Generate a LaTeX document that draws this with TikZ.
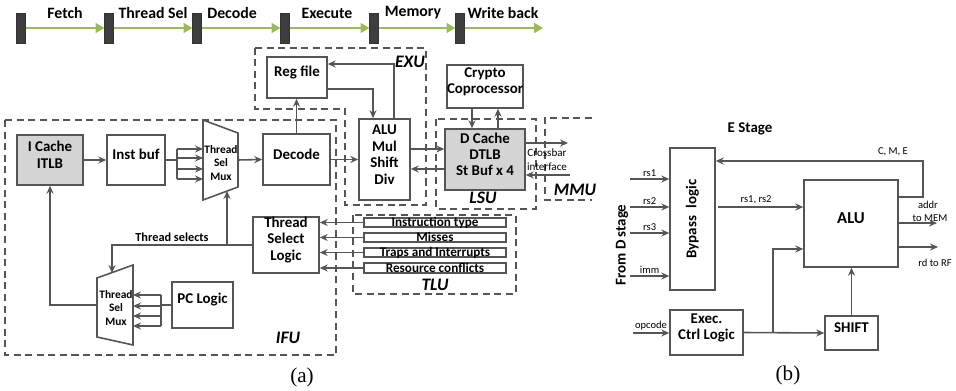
\documentclass[tikz,border=0pt]{standalone}
\usepackage{fontspec}
\setmainfont{Carlito}
\newfontfamily\capfont{Liberation Serif}
\usetikzlibrary{arrows.meta,fit,calc}

\definecolor{linegray}{RGB}{85,85,85}
\definecolor{cachefill}{RGB}{212,212,212}
\definecolor{pipegreen}{RGB}{155,187,89}
\definecolor{latchgray}{RGB}{62,62,62}

\tikzset{
  blk/.style={draw=linegray, line width=0.9pt, fill=white, inner sep=0pt, align=center,
    font=\bfseries\fontsize{8.5}{9.3}\selectfont},
  shaded/.style={blk, fill=cachefill},
  tlurow/.style={blk, line width=0.8pt},
  tlutxt/.style={inner sep=0pt, font=\bfseries\fontsize{7.5}{8}\selectfont,
    text height=4.9pt, text depth=0pt},
  unit/.style={draw=linegray, line width=0.8pt, dash pattern=on 4pt off 2.6pt},
  unitlbl/.style={font=\bfseries\itshape\fontsize{10}{12}\selectfont},
  wire/.style={draw=linegray, line width=0.9pt},
  arr/.style={wire, -{Stealth[length=4.5pt,width=4pt]}},
  muxtxt/.style={align=center, font=\bfseries\fontsize{6.5}{7.9}\selectfont},
  small/.style={font=\fontsize{6}{7}\selectfont, inner sep=1pt},
  latch/.style={draw=black!80, fill=latchgray, minimum width=0.17cm, minimum height=0.6cm, inner sep=0pt},
  pipe/.style={draw=pipegreen, line width=1.7pt, -{Triangle[length=5pt,width=5.5pt]}},
  stagelbl/.style={font=\bfseries\fontsize{9}{11}\selectfont},
}

\begin{document}
\begin{tikzpicture}[x=0.02cm, y=-0.02cm]
\useasboundingbox (0,0) rectangle (956,391);

% pipeline stages
\foreach \x [count=\i] in {21,109,197,285,374,460}
  \node[latch] (st\i) at (\x,28) {};
\coordinate (wbEnd) at (543,28);
\foreach \i/\j in {1/2,2/3,3/4,4/5,5/6}
  \draw[pipe] (st\i.east) -- (st\j.west);
\draw[pipe] (st6.east) -- (wbEnd);
\foreach \x/\t in {65/Fetch,153/Thread Sel,232/Decode,327/Execute,413/Memory,503/Write back}
  \node[stagelbl] at (\x,13) {\t};

% (a) core units
\draw[unit] (255,48) -- (426,48) -- (426,205) -- (345,205) -- (345,109) -- (255,109) -- cycle;
\draw[unit] (5,120) rectangle (336,355);
\draw[unit] (436,119) rectangle (536,209);
\draw[unit] (592,118) -| (545,200) -- (592,200);
\draw[unit] (353,215) rectangle (516,294);
\node[unitlbl] (exulbl) at (410,62) {EXU};
\node[unitlbl] (lsulbl) at (483,198) {LSU};
\node[unitlbl] (mmulbl) at (575,190) {MMU};
\node[unitlbl] (ifulbl) at (288,338) {IFU};
\node[unitlbl] (tlulbl) at (435,285) {TLU};

\node[shaded, fit={(17,135) (83,185)}] (icache) {I Cache\\ITLB};
\node[blk, fit={(107,135) (165,185)}] (instbuf) {Inst buf};
\node[blk, fit={(263,134) (330,185)}] (decode) {Decode};
\node[blk, fit={(267,57) (327,98)}] (regfile) {Reg file};
\node[blk, fit={(359,119) (410,200)}] (alu) {ALU\\Mul\\Shift\\Div};
\node[blk, fit={(447,65) (523,108)}] (crypto) {Crypto\\Coprocessor};
\node[shaded, fit={(445,129) (525,190)}] (dcache) {D Cache\\DTLB\\St Buf x 4};
\node[blk, fit={(253,217) (319,273)}] (tsl) {Thread\\Select\\Logic};
\node[blk, fit={(172,282) (233,328)}] (pclogic) {PC Logic};

% trap logic inputs
\foreach \n/\a/\b/\t in {itype/218/227/Instruction type, misses/233/242/Misses,
    traps/248/257/Traps and Interrupts, rescon/263/273/Resource conflicts} {
  \node[tlurow, fit={(364,\a) (506,\b)}] (\n) {};
  \node[tlutxt] at (\n.center) {\t};
}

% thread select muxes
\draw[wire, fill=white] (203,120) -- (238,133) -- (238,187) -- (203,200) -- cycle;
\node[muxtxt] (muxA) at (221,163) {Thread\\Sel\\Mux};
\coordinate (muxA-out) at (238,160);
\coordinate (muxA-sel) at (227,191);
\draw[wire, fill=white] (97,278) -- (133,265) -- (133,345) -- (97,337) -- cycle;
\node[muxtxt] (muxB) at (116,308) {Thread\\Sel\\Mux};
\coordinate (muxB-out) at (97,305);
\coordinate (muxB-sel) at (112,273);

\draw[arr] (icache.east) -- (instbuf.west);
\coordinate (fanA) at (177,160);
\draw[wire] (instbuf.east) -- (fanA);
\draw[wire] (177,149) -- (177,179);
\foreach \y [count=\i] in {149,158,169,179} {
  \coordinate (inA\i) at (203,\y);
  \draw[arr] (inA\i -| fanA) -- (inA\i);
}
\draw[arr] (muxA-out) -- (decode.west);
\draw[arr] (decode.north) -- (decode.north |- regfile.south);
\draw[arr] (decode.east) -- (decode.east -| alu.west);

\coordinate (wbk) at (394,64);
\draw[arr] (alu.north -| wbk) |- (regfile.east |- wbk);
\coordinate (rdA) at (373,89);
\draw[arr] (regfile.east |- rdA) -| (alu.north -| rdA);

\coordinate (ldA) at (0,149);
\draw[arr] (alu.east |- ldA) -- (dcache.west |- ldA);
\coordinate (stA) at (0,169);
\draw[arr] (dcache.west |- stA) -- (alu.east |- stA);
\coordinate (cpA) at (472,0);
\draw[arr] (crypto.south -| cpA) -- (dcache.north -| cpA);
\coordinate (cpB) at (498,0);
\draw[arr] (dcache.north -| cpB) -- (crypto.south -| cpB);

\coordinate (xbO) at (568,143);
\draw[arr] (dcache.east |- xbO) -- (xbO);
\coordinate (xbI) at (570,175);
\draw[arr] (xbI) -- (dcache.east |- xbI);
\node[small, align=center, font=\fontsize{6.3}{8}\selectfont] (xbar) at (547,160) {Crossbar\\interface};

\foreach \r in {itype,misses,traps,rescon}
  \draw[arr] (\r.west) -- (\r.west -| tsl.east);

\draw[arr] (tsl.west) -| (muxB-sel);
\draw[arr] (tsl.west -| muxA-sel) -- (muxA-sel);
\node[font=\bfseries\fontsize{7}{8}\selectfont] (tsel) at (172,237) {Thread selects};

\draw[arr] (muxB-out) -| (icache.south);
\coordinate (fanB) at (161,305);
\draw[wire] (pclogic.west) -- (fanB);
\draw[wire] (161,295) -- (161,326);
\foreach \y [count=\i] in {295,306,316,326} {
  \coordinate (inB\i) at (133,\y);
  \draw[arr] (inB\i -| fanB) -- (inB\i);
}

\node[font=\capfont\fontsize{12}{14}\selectfont] (capa) at (302,377) {(a)};

% (b) E stage datapath
\node[font=\bfseries\fontsize{8.5}{10}\selectfont] (estage) at (750,129) {E Stage};
\node[blk, fit={(670,148) (715,290)}] (bypass) {};
\node[rotate=90, font=\bfseries\fontsize{8.5}{10}\selectfont] (bypasslbl) at (bypass) {Bypass\enspace logic};
\node[blk, font=\bfseries\fontsize{9.5}{11}\selectfont, fit={(804,180) (898,267)}] (aluB) {ALU};
\node[blk, fit={(670,310) (743,355)}] (exec) {Exec.\\Ctrl Logic};
\node[blk, fit={(825,316) (878,350)}] (shift) {SHIFT};
\node[rotate=90, font=\bfseries\fontsize{8.5}{10}\selectfont] (fromd) at (622,245) {From D stage};

\foreach \y/\t [count=\i] in {179/rs1,207/rs2,233/rs3,276/imm} {
  \coordinate (src\i) at (630,\y);
  \draw[arr] (src\i) -- (bypass.west |- src\i);
  \node[small, above] at ($(src\i)!0.5!(bypass.west |- src\i)$) {\t};
}

\coordinate (fbB) at (0,197);
\coordinate (fbA) at (923,161);
\draw[arr] (aluB.east |- fbB) -| (fbA) -- (bypass.east |- fbA);
\node[small] (cme) at (893,152) {C, M, E};

\coordinate (opA) at (718,207);
\draw[arr] (opA) -- (aluB.west |- opA);
\node[small] (rsop) at (756,200) {rs1, rs2};

\coordinate (adO) at (937,223);
\draw[arr] (aluB.east |- adO) -- (adO);
\node[small] (addr) at (928,205) {addr};
\node[small] (tomem) at (930,218) {to MEM};
\coordinate (rdO) at (938,247);
\draw[arr] (aluB.east |- rdO) -- (rdO);
\node[small] (torf) at (935,263) {rd to RF};

\coordinate (opc) at (633,333);
\draw[arr] (opc) -- (exec.west |- opc);
\node[small] (opcode) at (651,326) {opcode};
\draw[arr] (exec.east) -- (shift.west);
\coordinate (brA) at (773,249);
\draw[arr] (exec.east -| brA) |- (aluB.west |- brA);
\draw[arr] (shift.north) -- (shift.north |- aluB.south);

\node[font=\capfont\fontsize{12}{14}\selectfont] (capb) at (788,375) {(b)};
\end{tikzpicture}
\end{document}
